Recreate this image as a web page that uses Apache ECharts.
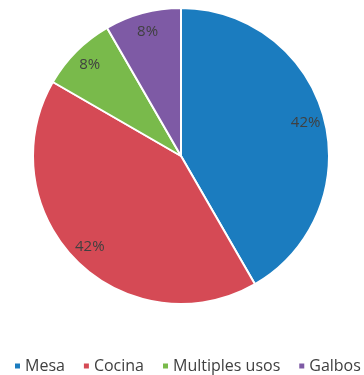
<!DOCTYPE html>
<html>
<head>
<meta charset="utf-8">
<script src="https://cdn.jsdelivr.net/npm/echarts@6/dist/echarts.min.js"></script>
<style>
    html, body { margin: 0; padding: 0; background: #fff; }
    #main { width: 364px; height: 375px; }
</style>
</head>
<body>
<div id="main"></div>
<script>
    var categories = ['Mesa', 'Cocina', 'Multiples usos', 'Galbos'];
    var values = [5, 5, 1, 1];
    var colors = ['#1b7cbf', '#d54a55', '#79ba4b', '#7e5aa5'];

    var data = categories.map(function (name, i) {
        return { name: name, value: values[i], itemStyle: { color: colors[i] } };
    });

    var chart = echarts.init(document.getElementById('main'));
    chart.setOption({
        animation: false,
        color: colors,
        legend: {
            data: categories,
            top: 358,
            left: 13,
            width: 400,
            padding: 0,
            icon: 'rect',
            itemWidth: 7,
            itemHeight: 7,
            itemGap: 17,
            textStyle: {
                fontFamily: 'Open Sans',
                fontSize: 16,
                color: '#404040',
                padding: [0, 0, 0, -1]
            }
        },
        series: [
            {
                type: 'pie',
                center: [181, 156],
                radius: [0, 148],
                startAngle: 90,
                clockwise: true,
                silent: true,
                data: data,
                label: { show: false },
                labelLine: { show: false },
                itemStyle: { borderColor: '#fff', borderWidth: 2 }
            },
            {
                // label carrier: ring whose middle sits near the outer edge
                type: 'pie',
                center: [181, 156],
                radius: [104, 148],
                startAngle: 90,
                clockwise: true,
                silent: true,
                data: categories.map(function (name, i) {
                    return { name: name, value: values[i] };
                }),
                itemStyle: { color: 'rgba(0,0,0,0)' },
                label: {
                    show: true,
                    position: 'inside',
                    formatter: function (p) { return Math.round(p.percent) + '%'; },
                    fontFamily: 'Open Sans',
                    fontSize: 15,
                    color: '#404040'
                },
                labelLine: { show: false }
            }
        ]
    });
</script>
</body>
</html>
